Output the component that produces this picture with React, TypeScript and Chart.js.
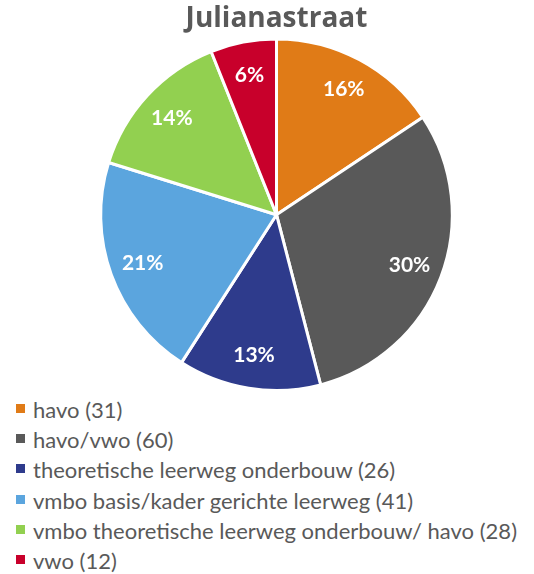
import React, { useEffect, useRef } from "react";
import { Chart, registerables } from "chart.js";

Chart.register(...registerables);

const titleText = "Julianastraat";
const categories = [
  "havo",
  "havo/vwo",
  "theoretische leerweg onderbouw",
  "vmbo basis/kader gerichte leerweg",
  "vmbo theoretische leerweg onderbouw/ havo",
  "vwo",
];
const counts = [31, 60, 26, 41, 28, 12];
const colors = ["#E07B17", "#595959", "#2E3B8C", "#5BA5DE", "#92D050", "#C8002B"];

const FONT = "Lato, 'Open Sans', sans-serif";
const TITLE_FONT = "'Open Sans', Lato, sans-serif";
const TEXT_COLOR = "#595959";

const pctLabels = {
  id: "pctLabels",
  afterDatasetsDraw(chart: any) {
    const ctx = chart.ctx;
    const meta = chart.getDatasetMeta(0);
    const data = chart.data.datasets[0].data as number[];
    const total = data.reduce((a, b) => a + b, 0);
    ctx.save();
    ctx.fillStyle = "#FFFFFF";
    ctx.font = `bold 21px ${FONT}`;
    ctx.textAlign = "center";
    ctx.textBaseline = "middle";
    meta.data.forEach((arc: any, i: number) => {
      const p = arc.getProps(["x", "y", "startAngle", "endAngle", "outerRadius"], true);
      const mid = (p.startAngle + p.endAngle) / 2;
      const r = p.outerRadius * 0.81;
      const x = p.x + Math.cos(mid) * r;
      const y = p.y + Math.sin(mid) * r;
      ctx.fillText(Math.round((data[i] / total) * 100) + "%", x, y);
    });
    ctx.restore();
  },
};

export default function App() {
  const ref = useRef<HTMLCanvasElement>(null);
  useEffect(() => {
    document.body.style.margin = "0";
    const chart = new Chart(ref.current!, {
      type: "pie",
      data: {
        labels: categories,
        datasets: [
          {
            data: counts,
            backgroundColor: colors,
            borderColor: "#FFFFFF",
            borderWidth: 3,
            hoverOffset: 0,
          },
        ],
      },
      options: {
        responsive: false,
        animation: false,
        layout: { padding: { left: 19, right: 0, top: 0, bottom: 0 } },
        plugins: {
          legend: { display: false },
          tooltip: { enabled: false },
          title: {
            display: true,
            text: titleText,
            color: TEXT_COLOR,
            font: { family: TITLE_FONT, size: 28, weight: "bold", lineHeight: 1.3 },
            padding: { top: 1, bottom: 0 },
          },
        },
      },
      plugins: [pctLabels],
    });
    return () => chart.destroy();
  }, []);

  return (
    <div style={{ position: "relative", width: 534, height: 574, background: "#fff" }}>
      <canvas ref={ref} width={534} height={392} style={{ position: "absolute", left: 0, top: 0 }} />
      <div style={{ position: "absolute", left: 0, top: 395, fontFamily: FONT, color: TEXT_COLOR }}>
        {categories.map((c, i) => (
          <div key={c} style={{ position: "relative", height: 30.2, lineHeight: "30.2px", fontSize: 22, whiteSpace: "nowrap" }}>
            <span
              style={{
                position: "absolute",
                left: 16,
                top: 9,
                width: 9,
                height: 9,
                background: colors[i],
              }}
            />
            <span style={{ position: "absolute", left: 33, top: 0 }}>
              {c} ({counts[i]})
            </span>
          </div>
        ))}
      </div>
    </div>
  );
}
